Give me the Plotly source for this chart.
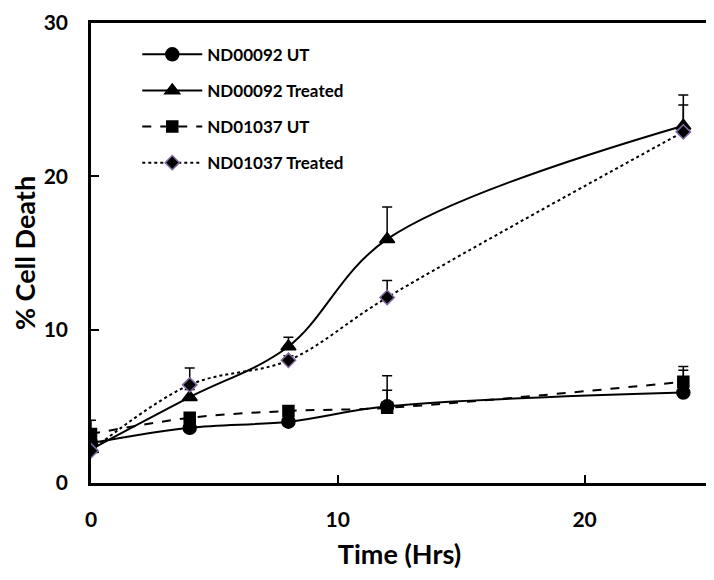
import plotly.graph_objects as go

time_hrs = [0, 4, 8, 12, 24]

nd92_ut = [2.6, 3.6, 4.0, 5.0, 5.9]
nd92_ut_err = [0.3, 0.3, 0.3, 2.0, 1.45]

nd92_tr = [2.2, 5.6, 8.9, 15.9, 23.3]
nd92_tr_err = [0.3, 0.5, 0.6, 2.1, 2.0]

nd37_ut = [3.2, 4.25, 4.7, 4.9, 6.6]
nd37_ut_err = [0.9, 0.3, 0.3, 1.15, 1.0]

nd37_tr = [2.1, 6.4, 8.0, 12.1, 22.9]
nd37_tr_err = [0.3, 1.1, 0.3, 1.1, 1.75]

FONT = "Lato"

fig = go.Figure()

def add(name, y, err, symbol, dash, mcolor, lcolor, msize):
    fig.add_trace(go.Scatter(
        x=time_hrs, y=y, name=name, mode="lines+markers",
        legendgroup=name,
        line=dict(color="black", width=2, dash=dash, shape="spline", smoothing=1.0),
        marker=dict(symbol=symbol, size=msize, color=mcolor,
                    line=dict(color=lcolor, width=1.5)),
        error_y=dict(type="data", array=err, symmetric=False,
                     arrayminus=[0] * len(err), color="black",
                     thickness=1.5, width=5),
    ))

add("ND00092 UT", nd92_ut, nd92_ut_err, "circle", "solid", "black", "black", 13)
add("ND00092 Treated", nd92_tr, nd92_tr_err, "triangle-up", "solid", "black", "black", 13)
add("ND01037 UT", nd37_ut, nd37_ut_err, "square", "dash", "black", "black", 11)
add("ND01037 Treated", nd37_tr, nd37_tr_err, "diamond", "dot", "black", "#7f6aa0", 11)

fig.update_layout(
    width=706, height=572,
    margin=dict(l=83, r=6, t=15, b=97, autoexpand=False),
    paper_bgcolor="white", plot_bgcolor="white",
    font=dict(family=FONT, color="black"),
    showlegend=True,
    legend=dict(x=0.075, y=0.97, xanchor="left", yanchor="top",
                font=dict(family=FONT, size=17, color="black", weight="bold"),
                bgcolor="rgba(0,0,0,0)", tracegroupgap=11,
                itemwidth=60),
    xaxis=dict(range=[0, 25], tickvals=[0, 10, 20], ticks="inside", ticklen=8,
               tickwidth=2, tickcolor="black", showline=True, linewidth=2.5,
               linecolor="black", mirror=True, showgrid=False, zeroline=False,
               automargin=False,
               tickfont=dict(family=FONT, size=21, color="black", weight="bold"),
               ticklabelstandoff=16,
               title=dict(text="Time (Hrs)", standoff=16,
                          font=dict(family=FONT, size=27, color="black", weight="bold"))),
    yaxis=dict(range=[0, 30], tickvals=[0, 10, 20, 30], ticks="inside", ticklen=8,
               tickwidth=2, tickcolor="black", showline=True, linewidth=2.5,
               linecolor="black", mirror=True, showgrid=False, zeroline=False,
               automargin=False, ticklabeloverflow="allow",
               tickfont=dict(family=FONT, size=21, color="black", weight="bold"),
               ticklabelstandoff=16,
               title=dict(text="% Cell Death", standoff=6,
                          font=dict(family=FONT, size=27, color="black", weight="bold"))),
)

fig.write_html("out.html")
